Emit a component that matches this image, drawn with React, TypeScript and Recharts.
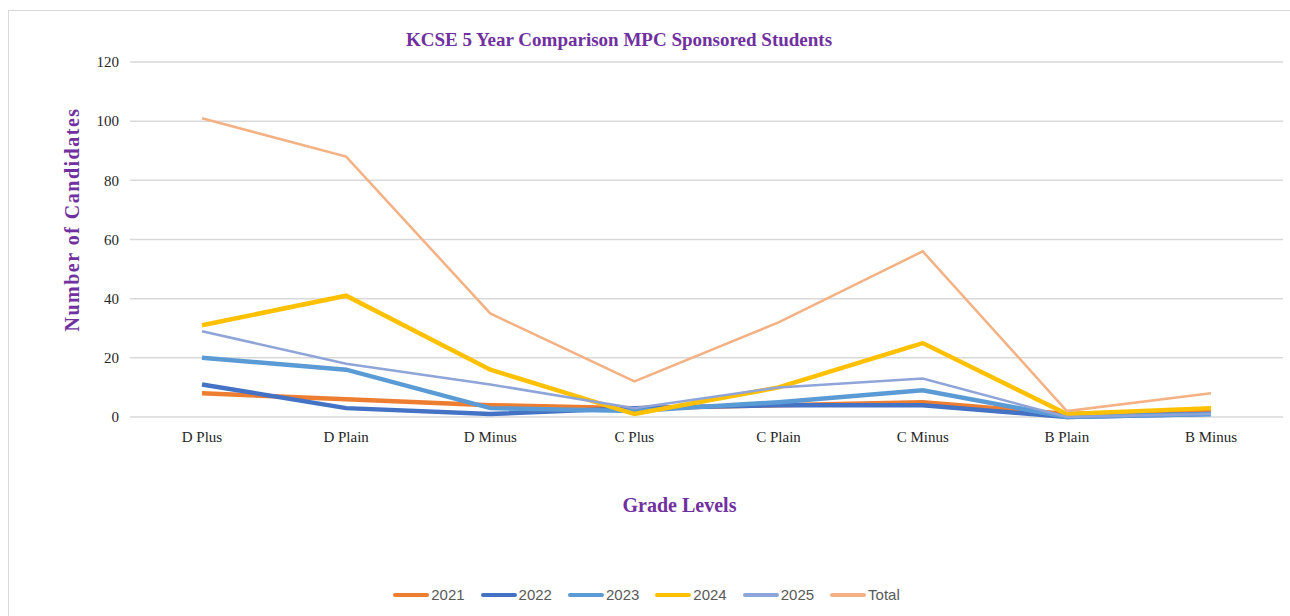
import { LineChart, Line, XAxis, YAxis, CartesianGrid, Legend } from 'recharts';

const grades = ['D Plus', 'D Plain', 'D Minus', 'C Plus', 'C Plain', 'C Minus', 'B Plain', 'B Minus'];
const y2021 = [8, 6, 4, 3, 4, 5, 1, 2];
const y2022 = [11, 3, 1, 3, 4, 4, 0, 1];
const y2023 = [20, 16, 3, 2, 5, 9, 0, 1];
const y2024 = [31, 41, 16, 1, 10, 25, 1, 3];
const y2025 = [29, 18, 11, 3, 10, 13, 0, 1];
const total = [101, 88, 35, 12, 32, 56, 2, 8];
const yTicks = [0, 20, 40, 60, 80, 100, 120];

const series = [
  { key: '2021', color: '#ED7D31', width: 4.5 },
  { key: '2022', color: '#4472C4', width: 4.5 },
  { key: '2023', color: '#5B9BD5', width: 4.5 },
  { key: '2024', color: '#FFC000', width: 4.5 },
  { key: '2025', color: '#8FA4D8', width: 2.5 },
  { key: 'Total', color: '#F4B183', width: 2.5 },
];

const data = grades.map((g, i) => ({
  grade: g,
  '2021': y2021[i],
  '2022': y2022[i],
  '2023': y2023[i],
  '2024': y2024[i],
  '2025': y2025[i],
  Total: total[i],
}));

const serif = '"Liberation Serif", "DejaVu Serif", serif';
const purple = '#7030A0';

function LegendContent() {
  return (
    <div style={{ display: 'flex', justifyContent: 'center', marginLeft: 26, fontFamily: '"Liberation Sans", Arial, sans-serif', fontSize: 15, color: '#595959' }}>
      {series.map((s) => (
        <div key={s.key} style={{ display: 'flex', alignItems: 'center', marginRight: 16 }}>
          <span style={{ display: 'inline-block', width: 36, height: 4, borderRadius: 2, background: s.color, marginRight: 2 }} />
          <span>{s.key}</span>
        </div>
      ))}
    </div>
  );
}

export default function App() {
  return (
    <div style={{ position: 'absolute', left: 0, top: 0, width: 1290, height: 616, overflow: 'hidden', background: '#fff' }}>
      <div style={{ position: 'absolute', left: 8, top: 10, width: 1300, height: 640, border: '1.5px solid #D9D9D9' }} />
      <div style={{ position: 'absolute', left: 0, top: 29, width: 1238, textAlign: 'center', fontFamily: serif, fontWeight: 'bold', fontSize: 19, color: purple }}>
        KCSE 5 Year Comparison MPC Sponsored Students
      </div>
      <LineChart width={1290} height={616} data={data} margin={{ top: 62, right: 7, left: 0, bottom: 6 }} style={{ position: 'absolute', left: 0, top: 0 }}>
        <CartesianGrid vertical={false} stroke="#D9D9D9" strokeWidth={1.5} />
        <XAxis
          dataKey="grade"
          padding={{ left: 72, right: 72 }}
          axisLine={false}
          tickLine={false}
          tickMargin={8}
          height={169}
          tick={{ fontFamily: serif, fontSize: 15, fill: '#262626' }}
          label={{ value: 'Grade Levels', position: 'insideTop', offset: 81, dx: -27, fill: purple, fontFamily: serif, fontWeight: 'bold', fontSize: 20 }}
        />
        <YAxis
          domain={[0, 120]}
          ticks={yTicks}
          width={130}
          axisLine={false}
          tickLine={false}
          tickMargin={5}
          tick={{ fontFamily: serif, fontSize: 15, fill: '#262626' }}
          label={{ value: 'Number of Candidates', angle: -90, position: 'center', dx: 7, dy: -20, fill: purple, fontFamily: serif, fontWeight: 'bold', fontSize: 20, letterSpacing: 1.5 }}
        />
        <Legend verticalAlign="bottom" height={24} content={<LegendContent />} />
        {series.map((s) => (
          <Line
            key={s.key}
            dataKey={s.key}
            stroke={s.color}
            strokeWidth={s.width}
            dot={false}
            activeDot={false}
            isAnimationActive={false}
          />
        ))}
      </LineChart>
    </div>
  );
}
